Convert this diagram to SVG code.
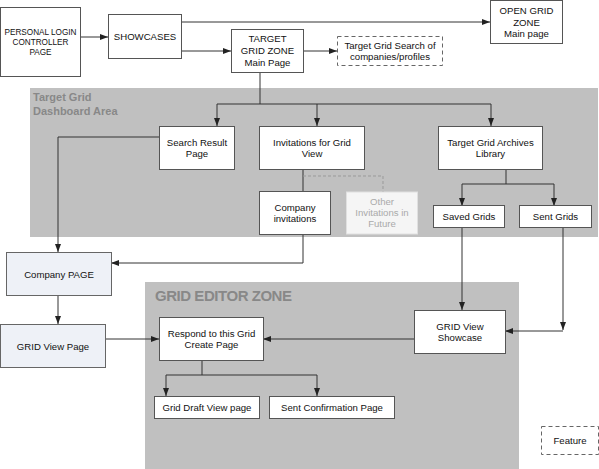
<svg xmlns="http://www.w3.org/2000/svg" width="599" height="469" viewBox="0 0 599 469">
<defs>
<style>
.zone{fill:#c0c0c0;stroke:none}
.box{fill:#fff;stroke:#555;stroke-width:1}
.blue{fill:#eef1f7;stroke:#666;stroke-width:1}
.dash{fill:#fff;stroke:#666;stroke-width:1;stroke-dasharray:4,3}
.t{font-family:"Liberation Sans",Arial,sans-serif;font-size:9.6px;fill:#111;text-anchor:middle;dominant-baseline:central}
.small{font-size:8.2px}
.ghost{fill:#aaa}
.zl{font-family:"Liberation Sans",Arial,sans-serif;font-weight:bold;fill:#888}
.c{fill:none;stroke:#333;stroke-width:1}
.cd{fill:none;stroke:#999;stroke-width:1;stroke-dasharray:3,2}
</style>
<marker id="ah" viewBox="0 0 8 6" refX="8" refY="3" markerWidth="8" markerHeight="6" orient="auto" markerUnits="userSpaceOnUse"><path d="M0,0 L8,3 L0,6 z" fill="#222"/></marker>
</defs>
<rect width="599" height="469" fill="#fff"/>
<g id="zone-dashboard">
<rect class="zone" x="30" y="88" width="568" height="149"/>
<text class="zl" x="33" y="101" font-size="11">Target Grid</text>
<text class="zl" x="33" y="114.5" font-size="11">Dashboard Area</text>
</g>
<g id="zone-editor">
<rect class="zone" x="145" y="282" width="374" height="187"/>
<text class="zl" x="155" y="301" font-size="15" textLength="137">GRID EDITOR ZONE</text>
</g>
<g id="connectors">
<path class="c" d="M80,37 H108" marker-end="url(#ah)"/>
<path class="c" d="M181,22 H490" marker-end="url(#ah)"/>
<path class="c" d="M181,51 H231" marker-end="url(#ah)"/>
<path class="c" d="M303,51 H337" marker-end="url(#ah)"/>
<path class="c" d="M260,72 V104"/>
<path class="c" d="M217,104 H491"/>
<path class="c" d="M217,104 V126" marker-end="url(#ah)"/>
<path class="c" d="M317,104 V126" marker-end="url(#ah)"/>
<path class="c" d="M491,104 V126" marker-end="url(#ah)"/>
<path class="c" d="M303,169 V191"/>
<path class="cd" d="M303,176 H383 V192"/>
<path class="c" d="M506,169 V184"/>
<path class="c" d="M462,184 H554"/>
<path class="c" d="M462,184 V206" marker-end="url(#ah)"/>
<path class="c" d="M554,184 V206" marker-end="url(#ah)"/>
<path class="c" d="M159,137 H58 V252" marker-end="url(#ah)"/>
<path class="c" d="M303,234 V263 H111" marker-end="url(#ah)"/>
<path class="c" d="M58,296 V324" marker-end="url(#ah)"/>
<path class="c" d="M105,339 H159" marker-end="url(#ah)"/>
<path class="c" d="M462,227 V310" marker-end="url(#ah)"/>
<path class="c" d="M563,227 V330" marker-end="url(#ah)"/>
<path class="c" d="M563,331 H505" marker-end="url(#ah)"/>
<path class="c" d="M414,339 H263" marker-end="url(#ah)"/>
<path class="c" d="M202,361 V375"/>
<path class="c" d="M166,375 H317"/>
<path class="c" d="M166,375 V396" marker-end="url(#ah)"/>
<path class="c" d="M317,375 V396" marker-end="url(#ah)"/>
</g>
<g id="login">
<rect class="box" x="0.5" y="7.5" width="80" height="69"/>
<text class="t small" x="40.5" y="32">PERSONAL LOGIN</text>
<text class="t small" x="40.5" y="42">CONTROLLER</text>
<text class="t small" x="40.5" y="52">PAGE</text>
</g>
<g id="showcases">
<rect class="box" x="108.5" y="14.5" width="73" height="44"/>
<text class="t" x="145" y="36">SHOWCASES</text>
</g>
<g id="target-grid-zone">
<rect class="box" x="231.5" y="29.5" width="72" height="43"/>
<text class="t" x="267.5" y="38.5">TARGET</text>
<text class="t" x="267.5" y="50.5">GRID ZONE</text>
<text class="t" x="267.5" y="62">Main Page</text>
</g>
<g id="open-grid-zone">
<rect class="box" x="490.5" y="0.5" width="72" height="43"/>
<text class="t" x="526.5" y="10.5">OPEN GRID</text>
<text class="t" x="526.5" y="22">ZONE</text>
<text class="t" x="526.5" y="33.5">Main page</text>
</g>
<g id="target-grid-search">
<rect class="dash" x="337.5" y="36.5" width="105" height="29"/>
<text class="t" x="390" y="45.5">Target Grid Search of</text>
<text class="t" x="390" y="56.5">companies/profiles</text>
</g>
<g id="search-result">
<rect class="box" x="159.5" y="126.5" width="75" height="43"/>
<text class="t" x="197" y="142">Search Result</text>
<text class="t" x="197" y="153.5">Page</text>
</g>
<g id="invitations">
<rect class="box" x="259.5" y="126.5" width="105" height="43"/>
<text class="t" x="312" y="142">Invitations for Grid</text>
<text class="t" x="312" y="153.5">View</text>
</g>
<g id="archives">
<rect class="box" x="438.5" y="126.5" width="104" height="43"/>
<text class="t" x="490.5" y="142">Target Grid Archives</text>
<text class="t" x="490.5" y="153.5">Library</text>
</g>
<g id="company-invitations">
<rect class="box" x="259.5" y="191.5" width="71" height="43"/>
<text class="t" x="295" y="207">Company</text>
<text class="t" x="295" y="218.5">invitations</text>
</g>
<g id="other-invitations">
<rect x="346.5" y="192" width="71" height="42" fill="#f5f5f5" stroke="#e0e0e0"/>
<text class="t ghost" x="382" y="201.5">Other</text>
<text class="t ghost" x="382" y="212.5">Invitations in</text>
<text class="t ghost" x="382" y="223.5">Future</text>
</g>
<g id="saved-grids">
<rect class="box" x="433.5" y="205.5" width="71" height="22"/>
<text class="t" x="469" y="216.5">Saved Grids</text>
</g>
<g id="sent-grids">
<rect class="box" x="519.5" y="205.5" width="72" height="22"/>
<text class="t" x="555.5" y="216.5">Sent Grids</text>
</g>
<g id="company-page">
<rect class="blue" x="6.5" y="252.5" width="105" height="43"/>
<text class="t" x="59" y="274">Company PAGE</text>
</g>
<g id="grid-view-page">
<rect class="blue" x="0.5" y="324.5" width="105" height="43"/>
<text class="t" x="53" y="346">GRID View Page</text>
</g>
<g id="respond">
<rect class="box" x="159.5" y="317.5" width="104" height="43"/>
<text class="t" x="211.5" y="333">Respond to this Grid</text>
<text class="t" x="211.5" y="344.5">Create Page</text>
</g>
<g id="grid-view-showcase">
<rect class="box" x="414.5" y="310.5" width="91" height="43"/>
<text class="t" x="460" y="326">GRID View</text>
<text class="t" x="460" y="337.5">Showcase</text>
</g>
<g id="grid-draft">
<rect class="box" x="154.5" y="396.5" width="105" height="22"/>
<text class="t" x="207" y="407.5">Grid Draft View page</text>
</g>
<g id="sent-confirmation">
<rect class="box" x="269.5" y="396.5" width="125" height="22"/>
<text class="t" x="332" y="407.5">Sent Confirmation Page</text>
</g>
<g id="legend-feature">
<rect class="dash" x="541.5" y="426.5" width="57" height="28"/>
<text class="t" x="570" y="440">Feature</text>
</g>
</svg>
